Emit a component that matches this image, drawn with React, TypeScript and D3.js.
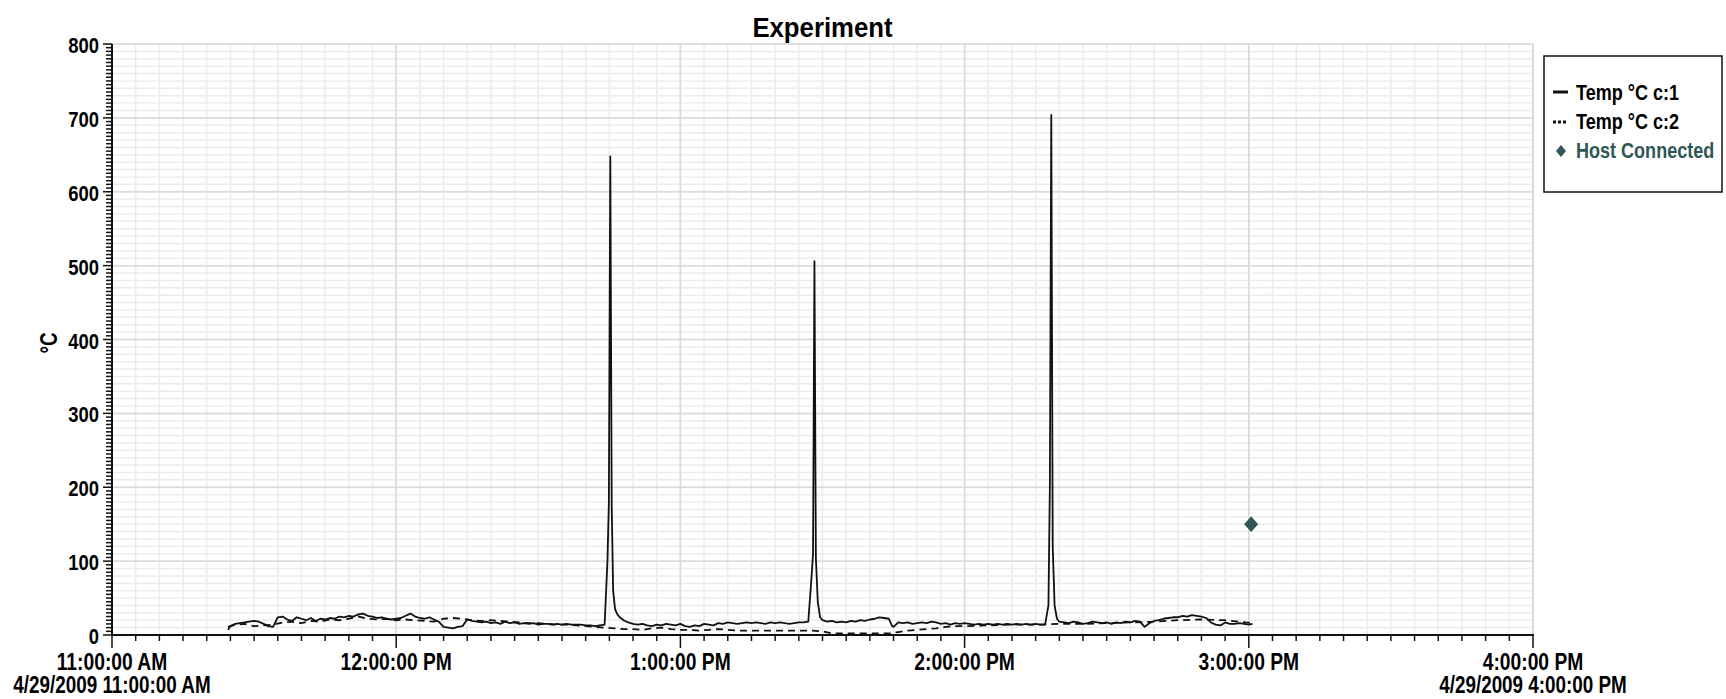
import React from 'react';
import * as d3 from 'd3';

const START = new Date(2009, 3, 29, 11, 0, 0);
const END = new Date(2009, 3, 29, 16, 0, 0);

// minutes after 11:00 AM
const c1Minutes = [24.5,25,26,27,28,29,30,31,32,33,34,35,36,37,38,39,40,41,42,43,44,45,46,47,48,49,50,51,52,53,54,55,56,57,58,59,60,61,62,63,64,65,66,67,68,69,70,71,72,73,74,75,76,77,78,79,80,81,82,83,84,85,86,87,88,89,90,91,92,93,94,95,96,97,98,99,100,101,102,103,104,104.6,104.9,105.2,105.5,105.8,106.2,106.7,107.2,108,109,110,111,112,113,114,115,116,117,118,119,120,121,122,123,124,125,126,127,128,129,130,131,132,133,134,135,136,137,138,139,140,141,142,143,144,145,146,147,147.7,148,148.3,148.6,149,149.5,150,151,152,153,154,155,156,157,158,159,160,161,162,163,164,164.7,165,166,167,168,169,170,171,172,173,174,175,176,177,178,179,180,181,182,183,184,185,186,187,188,189,190,191,192,193,194,195,196,197,197.7,198,198.3,198.6,199,199.5,200,201,202,203,204,205,206,207,208,209,210,211,212,213,214,215,216,217,218,219,220,221,222,223,224,225,226,227,228,229,230,231,232,233,234,235,236,237,238,239,240,240.8];
const c1Values = [7,12,15,16,17,18,19,18,15,12,11,24,25,21,19,24,22,20,23,19,22,21,23,22,25,24,26,25,28,29,26,25,23,24,22,21,22,23,26,29,25,23,22,24,21,18,11,10,9,11,12,21,19,18,17,18,16,17,15,18,16,17,15,16,15,16,14,15,15,14,15,14,15,14,14,14,13,13,12,13,14,100,180,648,175,60,35,28,24,20,17,15,14,15,13,12,14,13,15,14,13,15,12,11,13,12,15,14,13,16,15,17,16,15,16,17,16,17,16,15,17,16,17,16,15,16,17,17,18,80,110,506,105,45,24,20,18,19,17,18,17,19,18,20,19,21,22,24,23,22,12,11,17,16,17,15,16,17,16,18,17,15,16,14,16,15,16,15,14,15,14,15,14,15,14,15,14,15,14,15,14,15,14,14,40,200,704,120,40,22,18,17,16,18,17,15,16,18,17,16,17,15,17,16,18,17,19,18,11,16,19,20,22,23,24,24,26,25,27,26,25,23,17,14,13,17,15,15,16,15,14,15];

const c2Minutes = [24.5,26,28,30,32,34,36,38,40,42,44,46,48,50,52,54,56,58,60,62,64,66,68,70,72,74,76,78,80,82,84,86,88,90,92,94,96,98,100,102,104,106,108,110,112,114,116,118,120,122,124,126,128,130,132,134,136,138,140,142,144,146,148,150,152,154,156,158,160,162,164,166,168,170,172,174,176,178,180,185,190,195,200,205,210,215,220,225,230,235,238,240.8];
const c2Values = [11,14,15,12,13,14,17,18,16,19,18,21,20,22,25,22,21,22,20,21,20,19,18,22,23,22,20,19,20,19,18,17,16,16,15,14,14,13,12,11,10,9,8,8,7,9,10,8,7,7,6,7,8,7,6,6,6,6,6,6,6,6,6,5,2,2,2,2,2,2,2,4,6,7,8,9,11,12,12,13,14,14,15,15,16,17,18,20,21,20,18,16];

const hostMinutes = [240.5];
const hostValues = [150];

const yTicks = [0, 100, 200, 300, 400, 500, 600, 700, 800];
const xTickLabels = ['11:00:00 AM', '12:00:00 PM', '1:00:00 PM', '2:00:00 PM', '3:00:00 PM', '4:00:00 PM'];
const rangeLabels = ['4/29/2009 11:00:00 AM', '4/29/2009 4:00:00 PM'];
const legendLabels = ['Temp °C c:1', 'Temp °C c:2', 'Host Connected'];
const titleText = 'Experiment';
const yLabel = '°C';

const toDate = (m: number) => new Date(START.getTime() + m * 60000);

const L = 112, R = 1533, T = 44, B = 635;
const FONT = 'Liberation Sans, Arial, sans-serif';
const HOST = '#2e5656';

function NText(props: any) {
  const { x, y, anchor = 'start', size = 22, fill = '#000', rotate = 0, sx = 0.82, children } = props;
  return (
    <text
      transform={`translate(${x},${y}) rotate(${rotate}) scale(${sx},1)`}
      textAnchor={anchor}
      fontSize={size}
      fontFamily={FONT}
      fontWeight="bold"
      fill={fill}
    >
      {children}
    </text>
  );
}

export default function App() {
  const x = d3.scaleTime().domain([START, END]).range([L, R]);
  const y = d3.scaleLinear().domain([0, 800]).range([B, T]);

  const minor5 = d3.timeMinute.every(5)!.range(START, new Date(END.getTime() + 1000));
  const hours = d3.timeHour.every(1)!.range(START, new Date(END.getTime() + 1000));
  const yMinorGrid = d3.range(0, 801, 10);
  const yMinorTicks = d3.range(0, 801, 5);

  const line = d3
    .line<[number, number]>()
    .x((d) => x(toDate(d[0])))
    .y((d) => y(d[1]));

  const c1 = c1Minutes.map((m, i) => [m, c1Values[i]] as [number, number]);
  const c2 = c2Minutes.map((m, i) => [m, c2Values[i]] as [number, number]);

  const bigDiamond = d3.symbol().type(d3.symbolSquare).size(98)()!;
  const smallDiamond = d3.symbol().type(d3.symbolSquare).size(50)()!;

  return (
    <svg
      width={1726}
      height={699}
      style={{ position: 'absolute', left: 0, top: 0, background: '#fff' }}
    >
      <rect x={0} y={0} width={1726} height={699} fill="#fff" />
      {/* grid */}
      {minor5.map((d, i) => (
        <line key={'vg' + i} x1={x(d)} x2={x(d)} y1={T} y2={B} stroke="#ececec" strokeWidth={1.5} />
      ))}
      {yMinorGrid.map((v) => (
        <line key={'hg' + v} x1={L} x2={R} y1={y(v)} y2={y(v)} stroke="#ececec" strokeWidth={1.5} />
      ))}
      {hours.map((d, i) => (
        <line key={'vh' + i} x1={x(d)} x2={x(d)} y1={T} y2={B} stroke="#dadada" strokeWidth={1.5} />
      ))}
      {yTicks.map((v) => (
        <line key={'hm' + v} x1={L} x2={R} y1={y(v)} y2={y(v)} stroke="#dadada" strokeWidth={1.5} />
      ))}
      <line x1={R} x2={R} y1={T} y2={B} stroke="#dadada" strokeWidth={1.5} />

      {/* series */}
      <path d={line(c2)!} fill="none" stroke="#111" strokeWidth={1.8} strokeDasharray="7,5" />
      <path d={line(c1)!} fill="none" stroke="#111" strokeWidth={1.8} strokeLinejoin="round" />

      {hostMinutes.map((m, i) => (
        <path key={'h' + i} d={bigDiamond} transform={`translate(${x(toDate(m))},${y(hostValues[i])}) scale(1,1.12) rotate(45)`} fill={HOST} />
      ))}

      {/* axes */}
      <line x1={L} x2={L} y1={T} y2={B + 1} stroke="#111" strokeWidth={2} />
      <line x1={L - 1} x2={R + 1} y1={B} y2={B} stroke="#111" strokeWidth={2} />
      {yMinorTicks.map((v) => (
        <line key={'yt' + v} x1={v % 100 === 0 ? L - 9 : L - 6} x2={L} y1={y(v)} y2={y(v)} stroke="#111" strokeWidth={1.5} />
      ))}
      {minor5.map((d, i) => (
        <line key={'xt' + i} x1={x(d)} x2={x(d)} y1={B} y2={d.getMinutes() === 0 ? B + 13 : B + 6} stroke="#111" strokeWidth={1.5} />
      ))}
      {yTicks.map((v) => (
        <NText key={'yl' + v} x={L - 13} y={y(v) + 9} anchor="end" size={22.5}>
          {String(v)}
        </NText>
      ))}
      {hours.map((d, i) => (
        <NText key={'xl' + i} x={x(d)} y={670} anchor="middle" size={23.5}>
          {xTickLabels[i]}
        </NText>
      ))}
      <NText x={x(START)} y={693} anchor="middle" size={23}>{rangeLabels[0]}</NText>
      <NText x={x(END)} y={693} anchor="middle" size={23}>{rangeLabels[1]}</NText>

      <NText x={(L + R) / 2} y={37} anchor="middle" size={28} sx={0.92}>{titleText}</NText>
      <NText x={57} y={343} anchor="middle" rotate={-90} size={23}>{yLabel}</NText>

      {/* legend */}
      <rect x={1544} y={56} width={178} height={136} fill="#fff" stroke="#111" strokeWidth={1.5} />
      <line x1={1553} x2={1568} y1={92} y2={92} stroke="#111" strokeWidth={3} />
      <NText x={1576} y={100}>{legendLabels[0]}</NText>
      <line x1={1553} x2={1568} y1={122} y2={122} stroke="#111" strokeWidth={3} strokeDasharray="3,2" />
      <NText x={1576} y={129}>{legendLabels[1]}</NText>
      <path d={smallDiamond} transform="translate(1561,151) scale(1,1.2) rotate(45)" fill={HOST} />
      <NText x={1576} y={158} fill={HOST}>{legendLabels[2]}</NText>
    </svg>
  );
}
